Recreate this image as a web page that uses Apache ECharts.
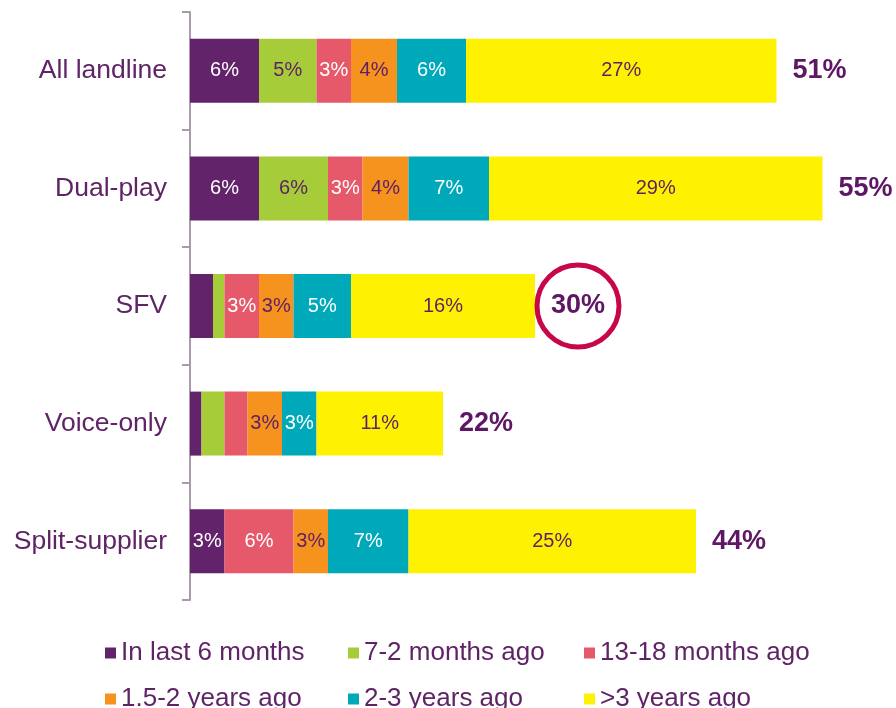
<!DOCTYPE html>
<html>
<head>
<meta charset="utf-8">
<script src="https://cdn.jsdelivr.net/npm/echarts@6/dist/echarts.min.js"></script>
<style>
  html, body { margin: 0; padding: 0; background: #fff; }
  #chart { width: 896px; height: 708px; }
</style>
</head>
<body>
<div id="chart"></div>
<script>
// categories (top to bottom)
var categories = ['All landline', 'Dual-play', 'SFV', 'Voice-only', 'Split-supplier'];
var seriesNames = ['In last 6 months', '7-2 months ago', '13-18 months ago', '1.5-2 years ago', '2-3 years ago', '>3 years ago'];
// values per series, in category order
var last6 = [6, 6, 2, 1, 3];
var m7to12 = [5, 6, 1, 2, 0];
var m13to18 = [3, 3, 3, 2, 6];
var y15to2 = [4, 4, 3, 3, 3];
var y2to3 = [6, 7, 5, 3, 7];
var over3 = [27, 29, 16, 11, 25];
var totals = [51, 55, 30, 22, 44];

var colors = ['#62236a', '#a6cd39', '#e6596b', '#f6921e', '#00a9ba', '#fff200'];
var labelColors = ['#ffffff', '#5f1f66', '#ffffff', '#5f1f66', '#ffffff', '#5f1f66'];
var purple = '#5f2466';
var font = 'Liberation Sans, Arial, sans-serif';

var chart = echarts.init(document.getElementById('chart'));
var allValues = [last6, m7to12, m13to18, y15to2, y2to3, over3];

var series = [];
allValues.forEach(function (vals, i) {
  series.push({
    name: seriesNames[i],
    type: 'bar',
    stack: 'total',
    barWidth: 64,
    data: vals,
    itemStyle: { color: colors[i] },
    label: {
      show: true,
      position: 'inside',
      color: labelColors[i],
      fontFamily: font,
      fontSize: 20,
      formatter: function (p) { return p.value >= 3 ? p.value + '%' : ''; }
    }
  });
});

// total labels, SFV circled
var totalData = totals.map(function (v, i) {
  if (categories[i] === 'SFV') {
    return {
      value: [v, categories[i]],
      symbol: 'circle',
      symbolSize: 82,
      symbolOffset: [43, 0],
      itemStyle: { color: 'rgba(0,0,0,0)', borderColor: '#c8064b', borderWidth: 5, opacity: 1 },
      label: { position: 'inside', distance: 0 }
    };
  }
  return { value: [v, categories[i]] };
});
series.push({
  name: 'total',
  type: 'scatter',
  symbolSize: 0,
  silent: true,
  data: totalData,
  itemStyle: { opacity: 1 },
  label: {
    show: true,
    position: 'right',
    distance: 16,
    color: '#5e1765',
    fontFamily: font,
    fontSize: 27,
    fontWeight: 'bold',
    formatter: function (p) { return p.value[0] + '%'; }
  },
  z: 5
});

// one legend per item so the columns line up
var legendLeft = [100, 343, 579, 100, 343, 579];
var legendTop = [635, 635, 635, 681, 681, 681];
var legends = seriesNames.map(function (name, i) {
  return {
    left: legendLeft[i],
    top: legendTop[i],
    itemWidth: 11,
    itemHeight: 11,
    icon: 'rect',
    data: [name],
    textStyle: { color: purple, fontFamily: font, fontSize: 26 }
  };
});

var option = {
  animation: false,
  grid: { left: 190, right: 16, top: 12, bottom: 108, containLabel: false },
  xAxis: { type: 'value', min: 0, max: 60, show: false },
  yAxis: {
    type: 'category',
    inverse: true,
    data: categories,
    axisLine: { show: true, lineStyle: { color: '#a99bab', width: 2 } },
    axisTick: { show: true, length: 8, lineStyle: { color: '#a99bab', width: 2 } },
    axisLabel: { color: purple, fontFamily: font, fontSize: 26.5, margin: 23 }
  },
  legend: legends,
  series: series
};
chart.setOption(option);
</script>
</body>
</html>
